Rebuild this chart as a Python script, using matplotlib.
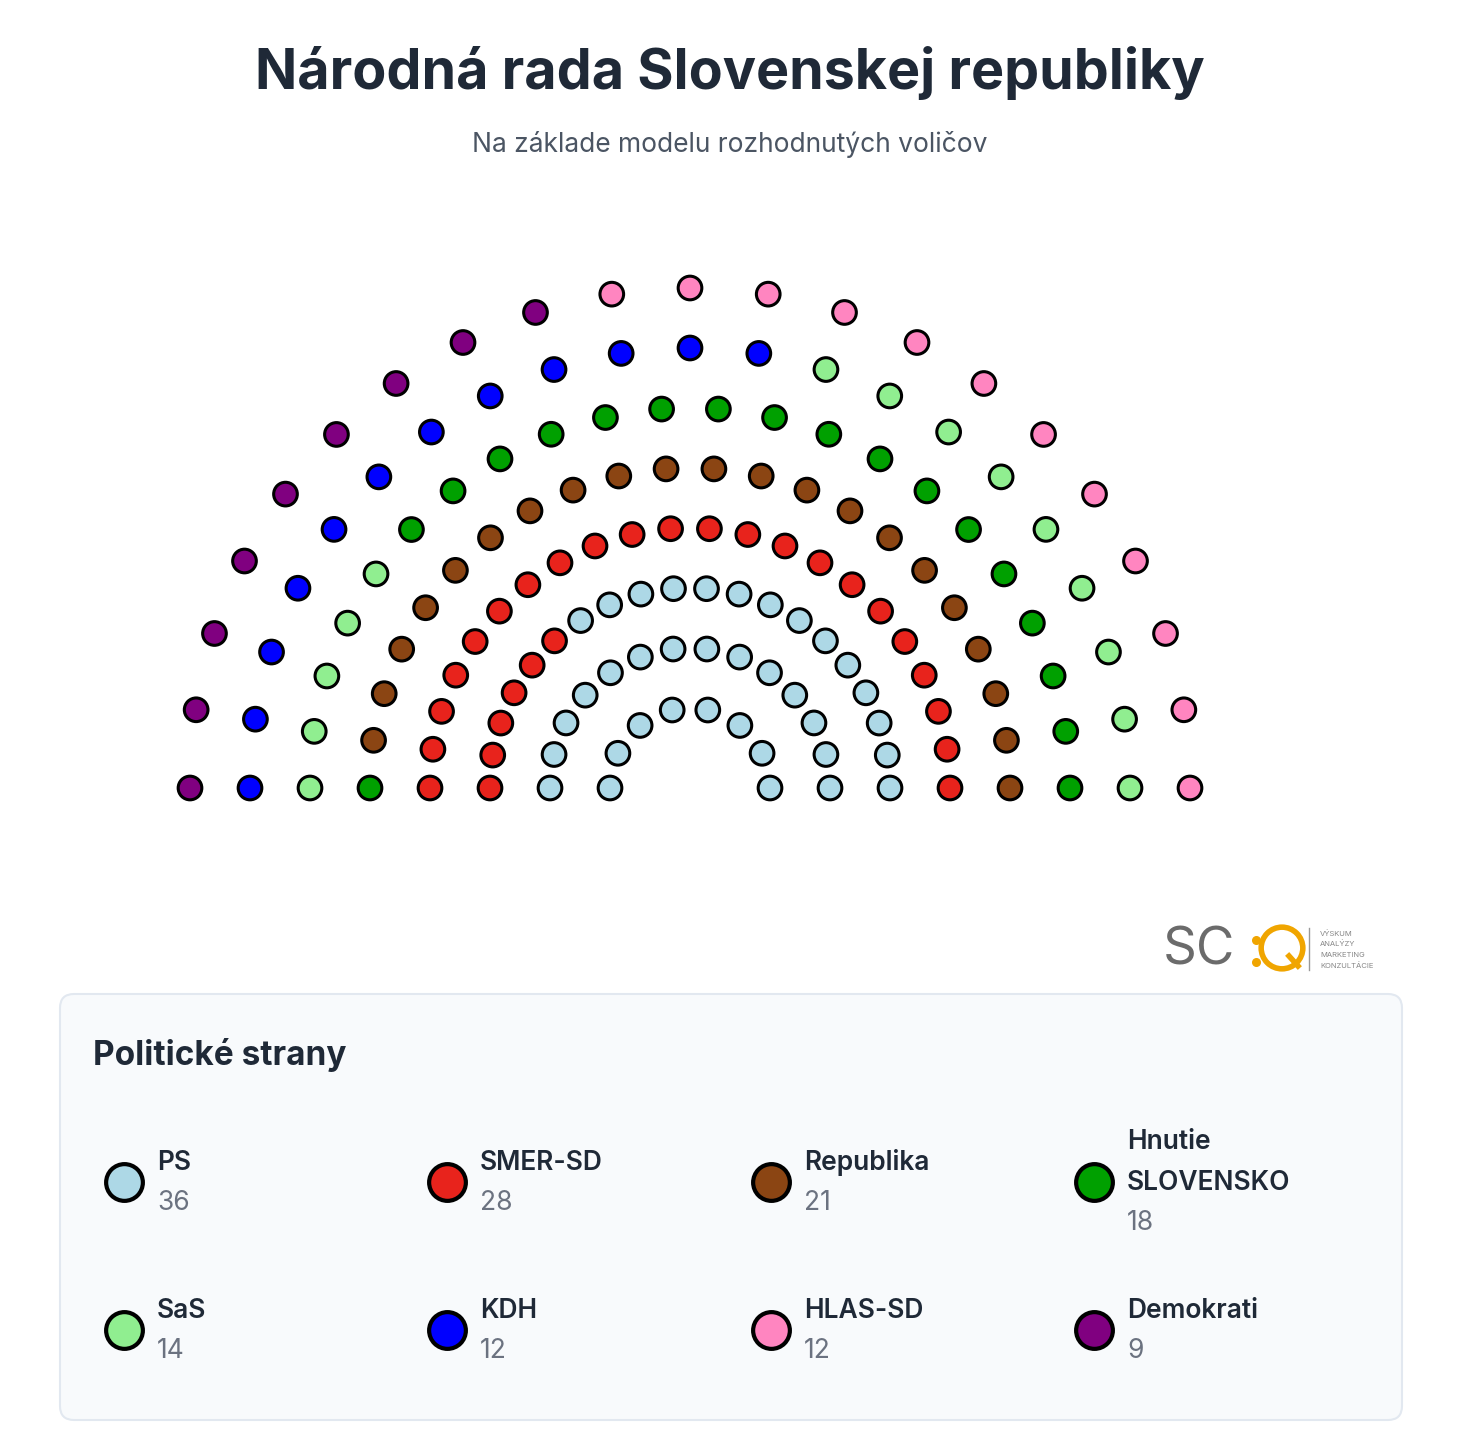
import numpy as np
import matplotlib
matplotlib.use("Agg")
import matplotlib.pyplot as plt
from matplotlib.patches import FancyBboxPatch

plt.rcParams['font.family'] = ['Inter', 'DejaVu Sans']

# Data
parties = ["PS", "SMER-SD", "Republika", "Hnutie\nSLOVENSKO", "SaS", "KDH", "HLAS-SD", "Demokrati"]
seats = [36, 28, 21, 18, 14, 12, 12, 9]
colors = ["#add8e6", "#e8231c", "#8b4513", "#00a000", "#90ee90", "#0000ff", "#ff85c0", "#800080"]
# filling order of the hemicycle (outer row first, left to right)
fill_order = ["Demokrati", "HLAS-SD", "KDH", "SaS", "Hnutie\nSLOVENSKO", "Republika", "SMER-SD", "PS"]
row_seats = [21, 21, 22, 22, 22, 20, 14, 8]      # outer -> inner
row_radii = [500, 440, 380, 320, 260, 200, 140, 80]

W, H = 1462, 1446
fig = plt.figure(figsize=(W/100, H/100), dpi=100)
ax = fig.add_axes([0, 0, 1, 1])
ax.set_xlim(0, W); ax.set_ylim(H, 0); ax.axis('off')

fig.text(730/W, 1-73/H, "Národná rada Slovenskej republiky", ha='center', va='center',
         fontsize=40, fontweight='bold', color='#1f2937')
fig.text(730/W, 1-145/H, "Na základe modelu rozhodnutých voličov", ha='center', va='center',
         fontsize=19, color='#4b5563')

cmap = dict(zip(parties, colors))
seq = []
for p in fill_order:
    seq += [cmap[p]] * seats[parties.index(p)]

cx, cy = 690, 788
k = 0
xs, ys, cs = [], [], []
for n, r in zip(row_seats, row_radii):
    th = np.linspace(np.pi, 0, n)
    for t in th:
        xs.append(cx + r*np.cos(t)); ys.append(cy - r*np.sin(t)); cs.append(seq[k]); k += 1
ax.scatter(xs, ys, s=290, c=cs, edgecolors='black', linewidths=2.2, zorder=3)

# logo
ax.text(1163, 951, "SC", fontsize=38, color='#6b6b6b', va='center', ha='left')
ax.scatter([1256, 1256], [940, 962], s=30, c='#f0a500', zorder=3)
ax.scatter([1282], [948], s=900, facecolors='none', edgecolors='#f0a500', linewidths=4, zorder=3)
ax.plot([1289, 1298], [956, 966], color='#f0a500', lw=4)
ax.plot([1309, 1309], [928, 970], color='#999999', lw=1)
for i, t in enumerate(["VÝSKUM", "ANALÝZY", "MARKETING", "KONZULTÁCIE"]):
    ax.text(1320, 933 + i*11, t, fontsize=5.5, color='#888888', va='center')

# legend box
box = FancyBboxPatch((60, 994), 1342, 426, boxstyle="round,pad=0,rounding_size=14",
                     facecolor='#f8fafc', edgecolor='#e2e8f0', linewidth=1.5, zorder=1)
ax.add_patch(box)
ax.text(93, 1055, "Politické strany", fontsize=24, fontweight='bold', color='#1f2937', va='center')

col_x = [124, 447, 771, 1094]
row_y = [1182, 1330]
for i, (p, s, c) in enumerate(zip(parties, seats, colors)):
    x = col_x[i % 4]; y = row_y[i // 4]
    ax.scatter([x], [y], s=700, c=c, edgecolors='black', linewidths=3, zorder=3)
    if "\n" in p:
        ax.text(x+33, y-40, p.split("\n")[0], fontsize=19, fontweight='semibold', color='#1f2937', va='center')
        ax.text(x+33, y+1, p.split("\n")[1], fontsize=19, fontweight='semibold', color='#1f2937', va='center')
        ax.text(x+33, y+41, str(s), fontsize=19, color='#6b7280', va='center')
    else:
        ax.text(x+33, y-19, p, fontsize=19, fontweight='semibold', color='#1f2937', va='center')
        ax.text(x+33, y+21, str(s), fontsize=19, color='#6b7280', va='center')

fig.savefig("out.png", dpi=100, facecolor='white')
